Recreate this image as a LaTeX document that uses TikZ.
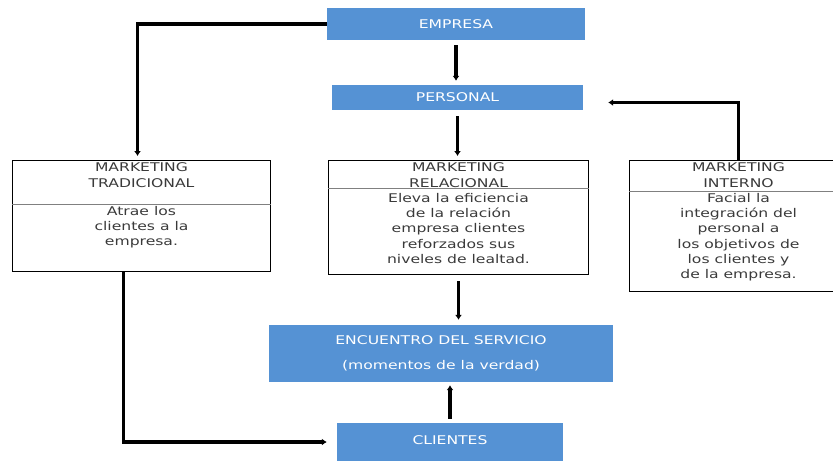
\documentclass[tikz,border=0pt]{standalone}
\usepackage{fontspec}
\setmainfont[FakeStretch=1.3]{DejaVu Sans}
\usepackage{xcolor}
\usepackage{tikz}
\usetikzlibrary{arrows.meta,calc}
\definecolor{boxblue}{HTML}{5592D4}
\definecolor{textgray}{HTML}{3A3A3A}

\begin{document}
\begin{tikzpicture}[
  x=1pt, y=-1pt,
  bluebox/.style={
    rectangle,
    fill=boxblue,
    text=white,
    align=center,
    inner sep=0pt,
    font=\fontsize{12}{14}\selectfont
  },
  mkbox/.style={
    rectangle,
    draw=black,
    line width=1pt,
    anchor=north west,
    inner sep=0pt
  },
  head/.style={
    anchor=north,
    align=center,
    inner sep=2pt,
    text=textgray,
    font=\fontsize{12}{16}\selectfont
  },
  body/.style={
    anchor=north,
    align=center,
    inner sep=2pt,
    text=textgray,
    font=\fontsize{12}{15.3}\selectfont
  },
  divider/.style={draw=gray, line width=1pt},
  arrow/.style={-{Latex[length=5pt,width=7pt]}, line width=3.2pt, draw=black}
]
\useasboundingbox (0,0) rectangle (833,461);

% blue boxes
\node[bluebox, minimum width=258pt, minimum height=32pt] (empresa) at (456,24) {EMPRESA};
\node[bluebox, minimum width=251pt, minimum height=25pt] (personal) at (457.5,97.5) {PERSONAL};
\node[bluebox, minimum width=344pt, minimum height=57pt] (enc) at (441,353.5) {
  ENCUENTRO DEL SERVICIO\\[11pt]
  (momentos de la verdad)
};
\node[bluebox, minimum width=226pt, minimum height=38pt] (cli) at (450,442) {\raisebox{4pt}{CLIENTES}};

% marketing boxes
\node[mkbox, minimum width=258pt, minimum height=111pt] (trad) at (12,160) {};
\node[head] (trad-h) at (trad.north) {MARKETING\\TRADICIONAL};
\draw[divider] (trad.west |- 0,204) -- (trad.east |- 0,204);
\node[body] (trad-b) at (trad.north |- 0,204) {
  Atrae los\\
  clientes a la\\
  empresa.
};

\node[mkbox, minimum width=260pt, minimum height=114pt] (rel) at (328,160) {};
\node[head] (rel-h) at (rel.north) {MARKETING\\RELACIONAL};
\draw[divider] (rel.west |- 0,188) -- (rel.east |- 0,188);
\node[body] (rel-b) at (rel.north |- 0,191) {
  Eleva la eficiencia\\
  de la relación\\
  empresa clientes\\
  reforzados sus\\
  niveles de lealtad.
};

\node[mkbox, minimum width=218pt, minimum height=131pt] (int) at (629,160) {};
\node[head] (int-h) at (int.north) {MARKETING\\INTERNO};
\draw[divider] (int.west |- 0,191) -- (int.east |- 0,191);
\node[body] (int-b) at (int.north |- 0,191) {
  Facial la\\
  integración del\\
  personal a\\
  los objetivos de\\
  los clientes y\\
  de la empresa.
};

% connectors
\draw[arrow, shorten >=4pt] (empresa.west) -| ([xshift=-4pt]trad.north);
\draw[arrow, shorten <=5pt, shorten >=4pt] (empresa.south) -- (empresa.south |- personal.north);
\draw[arrow, shorten <=6pt, shorten >=4pt] (personal.south) -- (personal.south |- rel.north);
\draw[arrow] (int.north) |- ([xshift=25pt,yshift=-5pt]personal.east);
\draw[arrow, shorten <=6pt, shorten >=5pt] (rel.south) -- (rel.south |- enc.north);
\draw[arrow, shorten <=4pt, shorten >=3pt] (cli.north) -- (cli.north |- enc.south);
\draw[arrow, shorten >=10pt] ([xshift=-18pt]trad.south) |- (cli.west);

\end{tikzpicture}
\end{document}
